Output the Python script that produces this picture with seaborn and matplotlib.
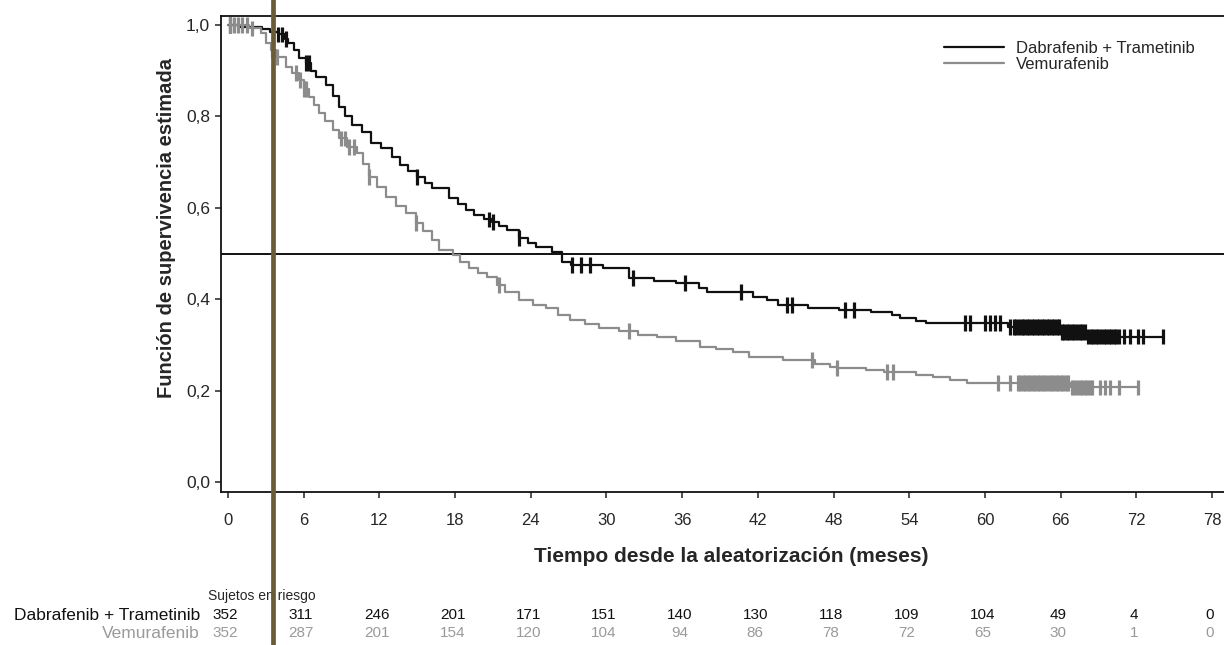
import matplotlib

matplotlib.use("Agg")
import matplotlib.pyplot as plt
import matplotlib.lines as mlines
import numpy as np
import pandas as pd
import seaborn as sns

# Curvas de Kaplan-Meier (tiempo en meses, supervivencia)
dt_time = [0, 0.8, 2.7, 3.3, 4.0, 4.5, 4.8, 5.2, 5.6, 6.2, 6.6, 7.0, 7.8, 8.3,
           8.8, 9.3, 9.8, 10.6, 11.3, 12.1, 13.0, 13.6, 14.3, 15.0, 15.6, 16.2,
           17.5, 18.2, 18.9, 19.5, 20.3, 20.9, 21.5, 22.1, 23.1, 23.8, 24.4,
           25.7, 26.5, 27.2, 29.7, 31.8, 33.8, 35.5, 37.3, 38.0, 41.6, 42.7,
           43.6, 46.0, 48.4, 51.0, 52.6, 53.3, 54.5, 55.3, 61.8, 66.0, 68.1, 74.1]
dt_surv = [1.0, 0.995, 0.991, 0.986, 0.98, 0.97, 0.96, 0.945, 0.928, 0.917, 0.90,
           0.886, 0.869, 0.845, 0.821, 0.80, 0.781, 0.765, 0.742, 0.731, 0.711,
           0.694, 0.68, 0.667, 0.655, 0.643, 0.621, 0.608, 0.595, 0.585, 0.575,
           0.569, 0.56, 0.551, 0.534, 0.524, 0.514, 0.503, 0.481, 0.475, 0.468,
           0.446, 0.440, 0.435, 0.425, 0.416, 0.405, 0.398, 0.387, 0.381, 0.376,
           0.372, 0.365, 0.359, 0.352, 0.348, 0.339, 0.328, 0.318, 0.318]

vem_time = [0, 1.7, 2.6, 3.0, 3.4, 3.8, 4.6, 5.1, 5.6, 6.0, 6.4, 6.8, 7.2, 7.7,
            8.3, 8.8, 9.4, 10.2, 10.7, 11.2, 11.8, 12.5, 13.3, 14.1, 14.9, 15.5,
            16.2, 16.7, 17.8, 18.4, 19.1, 19.8, 20.5, 21.3, 22.0, 23.1, 24.2,
            25.2, 26.2, 27.1, 28.3, 29.4, 31.0, 32.5, 34.0, 35.5, 37.4, 38.7,
            40.0, 41.3, 44.0, 46.5, 47.7, 48.3, 50.6, 52.0, 54.5, 55.9, 57.2,
            58.6, 66.8, 72.1]
vem_surv = [1.0, 0.993, 0.982, 0.96, 0.945, 0.93, 0.908, 0.895, 0.880, 0.86,
            0.842, 0.825, 0.807, 0.79, 0.770, 0.752, 0.733, 0.720, 0.695, 0.667,
            0.645, 0.624, 0.605, 0.589, 0.567, 0.550, 0.530, 0.508, 0.497, 0.482,
            0.468, 0.458, 0.449, 0.431, 0.415, 0.398, 0.388, 0.381, 0.365, 0.354,
            0.345, 0.337, 0.330, 0.322, 0.317, 0.308, 0.295, 0.29, 0.284, 0.274,
            0.267, 0.258, 0.252, 0.249, 0.245, 0.241, 0.235, 0.230, 0.223, 0.217,
            0.207, 0.207]

# Tiempos de censura (marcas verticales)
dt_cens = [0.2, 4.0, 4.3, 4.6, 6.2, 6.4, 15.0, 20.7, 21.0, 23.1, 27.3, 28.0,
           28.7, 32.1, 36.2, 40.7, 44.3, 44.7, 48.9, 49.6, 58.4, 58.8, 60.0,
           60.4, 60.8, 61.2, 62.0, 62.3, 62.5, 62.7, 62.9, 63.1, 63.3, 63.5,
           63.7, 63.9, 64.1, 64.3, 64.5, 64.7, 64.9, 65.1, 65.3, 65.5, 65.7,
           65.9, 66.1, 66.3, 66.5, 66.7, 66.9, 67.1, 67.3, 67.5, 67.7, 67.9,
           68.2, 68.4, 68.6, 68.8, 69.0, 69.2, 69.4, 69.6, 69.8, 70.0, 70.2,
           70.4, 70.6, 71.0, 71.5, 72.1, 72.5, 74.1]
vem_cens = [0.2, 0.5, 0.8, 1.1, 1.5, 1.9, 3.5, 3.9, 5.4, 5.7, 6.0, 6.2, 9.0,
            9.3, 9.6, 10.0, 11.2, 14.9, 21.5, 31.8, 46.3, 48.3, 52.2, 52.7,
            61.0, 62.0, 62.6, 62.8, 63.0, 63.2, 63.4, 63.6, 63.8, 64.0, 64.2,
            64.4, 64.6, 64.8, 65.0, 65.2, 65.4, 65.6, 65.8, 66.0, 66.2, 66.4,
            66.6, 66.9, 67.1, 67.3, 67.5, 67.7, 67.9, 68.1, 68.3, 68.5, 69.1,
            69.5, 69.9, 70.6, 72.1]

# Sujetos en riesgo
risk_times = [0, 6, 12, 18, 24, 30, 36, 42, 48, 54, 60, 66, 72, 78]
dt_risk = [352, 311, 246, 201, 171, 151, 140, 130, 118, 109, 104, 49, 4, 0]
vem_risk = [352, 287, 201, 154, 120, 104, 94, 86, 78, 72, 65, 30, 1, 0]

DT = "Dabrafenib + Trametinib"
VEM = "Vemurafenib"
colores = {DT: "#111111", VEM: "#8c8c8c"}

curvas = pd.concat([
    pd.DataFrame({"tiempo": dt_time, "surv": dt_surv, "grupo": DT}),
    pd.DataFrame({"tiempo": vem_time, "surv": vem_surv, "grupo": VEM}),
])


def valor_en(tiempos, survs, t):
    # valor de la curva escalonada en el tiempo t
    i = np.searchsorted(tiempos, t, side="right") - 1
    return np.asarray(survs)[i]


censuras = pd.concat([
    pd.DataFrame({"tiempo": dt_cens, "surv": valor_en(dt_time, dt_surv, dt_cens), "grupo": DT}),
    pd.DataFrame({"tiempo": vem_cens, "surv": valor_en(vem_time, vem_surv, vem_cens), "grupo": VEM}),
])

sns.set_style("ticks")
plt.rcParams["font.family"] = ["Liberation Sans", "DejaVu Sans"]

fig = plt.figure(figsize=(12.24, 6.45), dpi=100)
ax = fig.add_axes([221 / 1224, 1 - 492 / 645, 1 - 221 / 1224, (492 - 16) / 645])

sns.lineplot(data=curvas, x="tiempo", y="surv", hue="grupo", palette=colores,
             drawstyle="steps-post", estimator=None, linewidth=1.6,
             legend=False, ax=ax)
sns.scatterplot(data=censuras, x="tiempo", y="surv", hue="grupo", palette=colores,
                marker="|", s=125, linewidth=2.3, legend=False, ax=ax, zorder=3)

ax.axhline(0.5, color="#111111", linewidth=1.4, zorder=1)

ax.set_xlim(-0.55, 78.95)
ax.set_ylim(-0.022, 1.02)
ax.set_xticks(risk_times)
ax.set_yticks([0, 0.2, 0.4, 0.6, 0.8, 1.0])
ax.set_yticklabels(["0,0", "0,2", "0,4", "0,6", "0,8", "1,0"])
ax.tick_params(axis="both", labelsize=12, length=4, width=1.1, color="#222222")
ax.tick_params(axis="y", labelsize=12.5, pad=4)
ax.tick_params(axis="x", pad=11)
for lado in ["left", "bottom", "top"]:
    ax.spines[lado].set_linewidth(1.3)
    ax.spines[lado].set_color("#111111")
ax.spines["right"].set_visible(False)

ax.set_xlabel("Tiempo desde la aleatorización (meses)", fontsize=15,
              fontweight="bold", labelpad=10)
ax.set_ylabel("Función de supervivencia estimada", fontsize=14.5,
              fontweight="bold")
ax.xaxis.set_label_coords((731 - 221) / 1003, -(557 - 492) / 476)
ax.yaxis.set_label_coords((166 - 221) / 1003, (492 - 228) / 476)
ax.xaxis.label.set_va("center")
ax.yaxis.label.set_va("center")

handles = [mlines.Line2D([], [], color=colores[DT], linewidth=1.6),
           mlines.Line2D([], [], color=colores[VEM], linewidth=1.6)]
fig.legend(handles, [DT, VEM], loc="upper left",
           bbox_to_anchor=(944 / 1224, 1 - 41 / 645), frameon=False,
           fontsize=12, handlelength=3.6, handletextpad=0.7, labelspacing=0.05,
           borderpad=0, borderaxespad=0)

# Tabla de sujetos en riesgo
trans = matplotlib.transforms.blended_transform_factory(ax.transData, fig.transFigure)
fig.text(208 / 1224, 1 - 596 / 645, "Sujetos en riesgo", fontsize=10,
         va="center", ha="left")
fig.text(200 / 1224, 1 - 615 / 645, DT, fontsize=12.5, va="center", ha="right",
         color="#111111")
fig.text(200 / 1224, 1 - 633 / 645, VEM, fontsize=12.5, va="center", ha="right",
         color="#9a9a9a")
for t, n1, n2 in zip(risk_times, dt_risk, vem_risk):
    ax.text(t - 0.2, 1 - 615 / 645, str(n1), transform=trans, fontsize=11,
            ha="center", va="center", color="#111111")
    ax.text(t - 0.2, 1 - 633 / 645, str(n2), transform=trans, fontsize=11,
            ha="center", va="center", color="#9a9a9a")

# Linea vertical del escaneo original
fig.add_artist(mlines.Line2D([273 / 1224, 273 / 1224], [0, 1],
                             transform=fig.transFigure, color="#6a5c35",
                             linewidth=3.4, zorder=10))

fig.savefig("out.png", dpi=100)
